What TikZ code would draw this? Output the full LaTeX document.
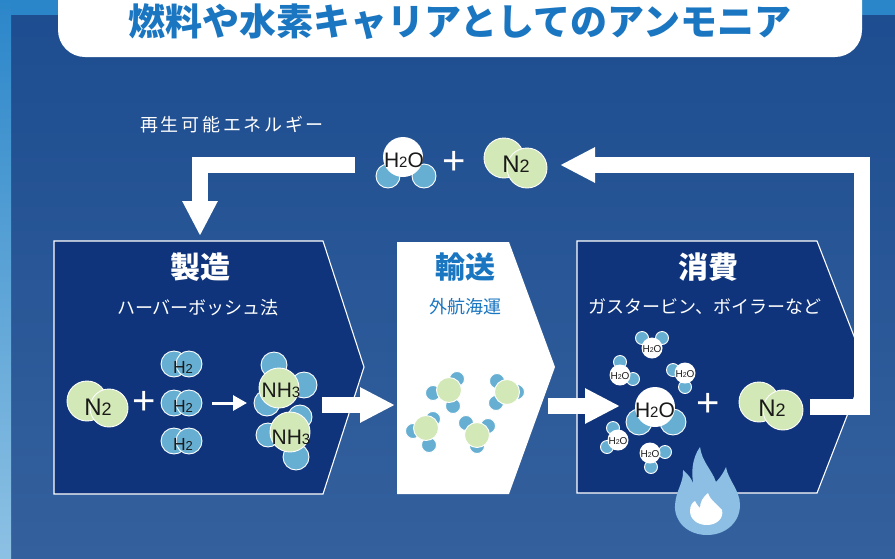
\documentclass[tikz,border=0pt]{standalone}
\usepackage{fontspec}
\setmainfont{Noto Sans CJK JP}
\newfontfamily\chemfont{Liberation Sans}
\usetikzlibrary{arrows.meta}

\definecolor{bgtop}{HTML}{1D4D90}
\definecolor{bgbot}{HTML}{34609D}
\definecolor{bandtop}{HTML}{2B86C9}
\definecolor{stripbot}{HTML}{8DC1E4}
\definecolor{navy}{HTML}{0F347B}
\definecolor{titleblue}{HTML}{1A76C1}
\definecolor{hblue}{HTML}{66AFD3}
\definecolor{ngreen}{HTML}{D3E8B7}
\definecolor{flameblue}{HTML}{8CBFE3}
\definecolor{ink}{HTML}{1A1A1A}

% chemical formula labels
\newcommand\Nlab{\fontsize{24}{24}\selectfont N\fontsize{18}{18}\selectfont 2}
\newcommand\Hlab{\fontsize{17.5}{17.5}\selectfont H\fontsize{13}{13}\selectfont 2}
\newcommand\NHlab{\fontsize{21}{21}\selectfont NH\fontsize{15}{15}\selectfont 3}
\newcommand\Wlab{\fontsize{21}{21}\selectfont H\fontsize{15}{15}\selectfont 2\fontsize{21}{21}\selectfont O}
\newcommand\wlab{\fontsize{10}{10}\selectfont H\fontsize{7}{7}\selectfont 2\fontsize{10}{10}\selectfont O}

\tikzset{
  stage/.style={fill=navy, draw=white, line width=1.1pt, line join=miter},
  hatom/.style={fill=hblue, draw=white, line width=0.9pt},
  natom/.style={fill=ngreen, draw=white, line width=0.9pt},
  oatom/.style={fill=white},
  flow/.style={draw=white, line width=15.5pt, line join=miter,
               -{Triangle[length=35pt,width=33pt]}},
  stagehead/.style={font=\bfseries\fontsize{30}{30}\selectfont, inner sep=0},
  stagesub/.style={font=\fontsize{18}{18}\selectfont, inner sep=0},
  chem/.style={text=ink, inner sep=0, font=\chemfont},
  plus/.style={text=white, inner sep=0, font=\chemfont\fontsize{40}{40}\selectfont},
}

\begin{document}
\begin{tikzpicture}[x=1pt,y=-1pt]
\useasboundingbox (0,0) rectangle (895,558);

% backdrop
\shade[top color=bgtop, bottom color=bgbot] (0,0) rectangle (895,558);
\fill[bandtop] (0,0) rectangle (895,15);
\shade[top color=bandtop, bottom color=stripbot] (0,0) rectangle (11,558);

% title banner
\fill[white, rounded corners=27pt] (58,-40) rectangle (862,57);
\node[font=\bfseries\fontsize{37}{37}\selectfont, text=titleblue, inner sep=0]
  (title) at (460,22) {燃料や水素キャリアとしてのアンモニア};

% renewable energy label
\node[font=\fontsize{18}{18}\selectfont\addfontfeature{LetterSpace=15}, text=white, inner sep=0]
  (renew) at (232,125) {再生可能エネルギー};

% stage panels
\path[stage] (54,241) -- (323,241) -- (364,367) -- (323,494) -- (54,494) -- cycle;
\path[fill=white] (397,242) -- (509,242) -- (555,367) -- (509,494) -- (397,494) -- cycle;
\path[stage] (577,241) -- (817,241) -- (866,367) -- (817,493) -- (577,493) -- cycle;

\node[stagehead, text=white] (makeT) at (200,267) {製造};
\node[stagesub, text=white] (makeS) at (198,308) {ハーバーボッシュ法};
\node[stagehead, text=titleblue] (shipT) at (465,267) {輸送};
\node[stagesub, text=titleblue] (shipS) at (465,307) {外航海運};
\node[stagehead, text=white] (useT) at (708,267) {消費};
\node[stagesub, text=white] (useS) at (705,307) {ガスタービン、ボイラーなど};

% ---- recycled H2O + N2 on top
\path[hatom] (388,176) circle[radius=12pt];
\path[hatom] (424,176) circle[radius=12pt];
\path[oatom] (403,157) circle[radius=20pt];
\node[chem] (topW) at (404,160) {\Wlab};
\node[plus] (topPlus) at (454.5,163) {+};
\path[natom] (504,158) circle[radius=20pt];
\path[natom] (527,168) circle[radius=20pt];
\node[chem] (topN) at (516,164) {\Nlab};

% ---- production: N2 + 3 H2 -> 2 NH3
\path[natom] (87,401) circle[radius=20pt];
\path[natom] (109,408) circle[radius=19pt];
\node[chem] (prodN) at (98,407) {\Nlab};
\node[plus] (prodPlus) at (144,403) {+};
\foreach \yy/\nm in {364/h2a, 403/h2b, 441/h2c}{
  \path[hatom] (174,\yy) circle[radius=13pt];
  \path[hatom] (189,\yy) circle[radius=13pt];
  \node[chem] (\nm) at (183,\yy+3) {\Hlab};
}
\coordinate (reactL) at (212,403);
\coordinate (reactR) at (247,403);
\draw[white, line width=3pt, -{Triangle[length=14pt,width=15pt]}] (reactL) -- (reactR);

\path[hatom] (274,365) circle[radius=13pt];
\path[hatom] (304,385) circle[radius=13pt];
\path[hatom] (267,403) circle[radius=13pt];
\path[natom] (279,388) circle[radius=20pt];
\node[chem] (nh3a) at (281,390) {\NHlab};

\path[hatom] (300,417) circle[radius=12pt];
\path[hatom] (268,435) circle[radius=12pt];
\path[hatom] (296,457) circle[radius=13pt];
\path[natom] (290,432) circle[radius=20pt];
\node[chem] (nh3b) at (291,437) {\NHlab};

% ---- shipping: loose NH3 molecules
\foreach \gx/\gy/\ax/\ay/\bx/\by/\cx/\cy in {
    449/390/433/393/457/379/453/406,
    507/392/497/381/517/392/496/403,
    426/428/433/419/413/431/429/445,
    477/435/466/423/488/426/477/446}{
  \path[hatom] (\ax,\ay) circle[radius=7.5pt];
  \path[hatom] (\bx,\by) circle[radius=7.5pt];
  \path[hatom] (\cx,\cy) circle[radius=7.5pt];
  \path[natom] (\gx,\gy) circle[radius=12.5pt];
}

% ---- consumption: H2O + N2
\foreach \wx/\wy/\ax/\ay/\bx/\by/\nm in {
    652/348/642/338/662/338/wa,
    620/375/620/362/633/379/wb,
    685/373/673/370/685/387/wc,
    618/440/613/428/607/447/wd,
    650/453/665/452/651/467/we}{
  \path[hatom] (\ax,\ay) circle[radius=6.5pt];
  \path[hatom] (\bx,\by) circle[radius=6.5pt];
  \path[oatom] (\wx,\wy) circle[radius=10.5pt];
  \node[chem] (\nm) at (\wx,\wy+1) {\wlab};
}
\path[hatom] (639,422) circle[radius=13pt];
\path[hatom] (673,422) circle[radius=13pt];
\path[oatom] (655,407) circle[radius=20pt];
\node[chem] (useW) at (655,410) {\Wlab};
\node[plus] (usePlus) at (708,405) {+};
\path[natom] (759,402) circle[radius=20pt];
\path[natom] (783,410) circle[radius=20pt];
\node[chem] (useN) at (772,408) {\Nlab};

% flame under the consumption stage
\fill[flameblue] (707,535) .. controls (688,535) and (674,522) .. (675,505)
  .. controls (676,490) and (684,482) .. (683,470)
  .. controls (690,476) and (694,482) .. (695,490)
  .. controls (690,475) and (692,458) .. (700,447)
  .. controls (702,462) and (712,470) .. (716,482)
  .. controls (720,478) and (724,472) .. (726,467)
  .. controls (728,480) and (740,490) .. (740,505)
  .. controls (740,522) and (726,535) .. (707,535) -- cycle;
\fill[white] (707,525) .. controls (697,525) and (690,519) .. (690,511)
  .. controls (690,505) and (693,502) .. (695,501)
  .. controls (697,505) and (699,507) .. (700,508)
  .. controls (700,502) and (703,497) .. (708,493)
  .. controls (710,500) and (718,505) .. (722,510)
  .. controls (724,518) and (717,525) .. (707,525) -- cycle;

% ---- flow arrows
\coordinate (feedS) at (355,165);
\coordinate (feedC) at (200,165);
\coordinate (feedE) at (200,236);
\draw[flow] (feedS) -- (feedC) -- (feedE);

\coordinate (ship1S) at (322,405);
\coordinate (ship1E) at (395,405);
\draw[flow] (ship1S) -- (ship1E);

\coordinate (ship2S) at (548,406);
\coordinate (ship2E) at (620,406);
\draw[flow] (ship2S) -- (ship2E);

\coordinate (backS) at (810,407);
\coordinate (backA) at (862,407);
\coordinate (backB) at (862,165);
\coordinate (backE) at (560,165);
\draw[flow] (backS) -- (backA) -- (backB) -- (backE);

\end{tikzpicture}
\end{document}
